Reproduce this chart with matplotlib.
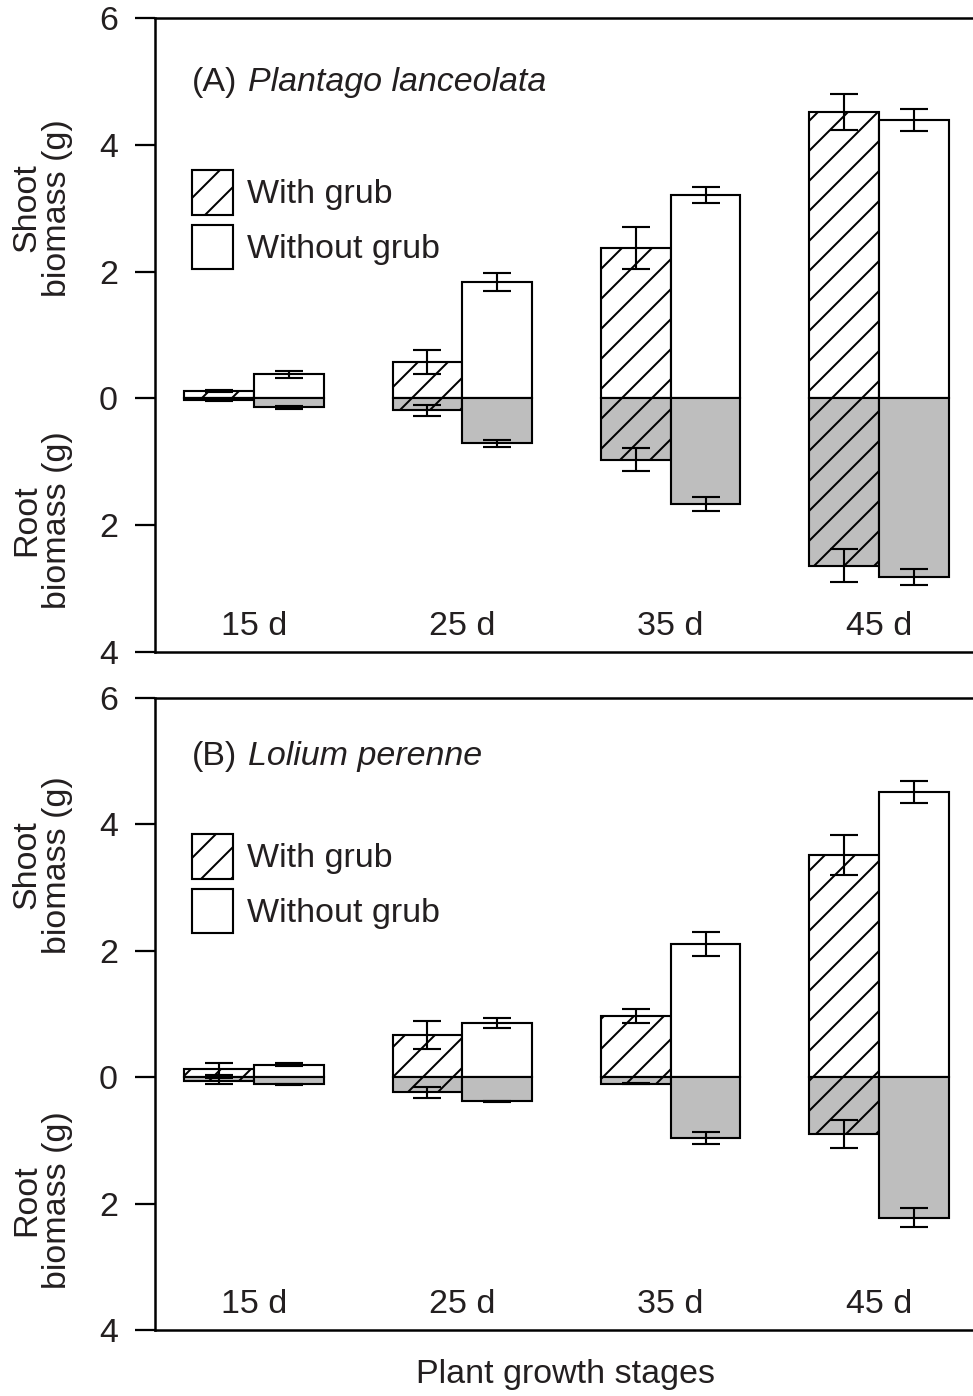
import matplotlib
matplotlib.use('Agg')
import matplotlib.pyplot as plt
from matplotlib.patches import Patch
import numpy as np

days = ['15 d', '25 d', '35 d', '45 d']

# Panel A - Plantago lanceolata
shoot_with_A = [0.12, 0.58, 2.37, 4.52]
shoot_with_A_err = [0.02, 0.19, 0.33, 0.28]
shoot_without_A = [0.38, 1.84, 3.21, 4.39]
shoot_without_A_err = [0.06, 0.14, 0.13, 0.17]
root_with_A = [0.03, 0.19, 0.97, 2.64]
root_with_A_err = [0.01, 0.09, 0.18, 0.26]
root_without_A = [0.14, 0.71, 1.66, 2.82]
root_without_A_err = [0.02, 0.06, 0.11, 0.13]

# Panel B - Lolium perenne
shoot_with_B = [0.13, 0.67, 0.97, 3.52]
shoot_with_B_err = [0.09, 0.22, 0.11, 0.32]
shoot_without_B = [0.20, 0.86, 2.11, 4.51]
shoot_without_B_err = [0.02, 0.08, 0.19, 0.17]
root_with_B = [0.06, 0.24, 0.10, 0.90]
root_with_B_err = [0.05, 0.09, 0.01, 0.22]
root_without_B = [0.11, 0.38, 0.96, 2.22]
root_without_B_err = [0.01, 0.01, 0.09, 0.15]

DPI = 180
txt = '#231f20'
gray = '#bebebe'
plt.rcParams['font.family'] = ['Liberation Sans', 'DejaVu Sans']
plt.rcParams['hatch.linewidth'] = 0.8
plt.rcParams['hatch.color'] = 'black'
fs = 13.6

fig = plt.figure(figsize=(973 / DPI, 1396 / DPI), dpi=DPI)

def px(x, y):
    return x / 973, 1 - y / 1396

panels = [
    dict(data=(shoot_with_A, shoot_with_A_err, shoot_without_A, shoot_without_A_err,
               root_with_A, root_with_A_err, root_without_A, root_without_A_err),
         top=18, bottom=652, tag='(A)', name='Plantago lanceolata', title_y=82,
         leg_y=170, shoot_y=208, root_y=520),
    dict(data=(shoot_with_B, shoot_with_B_err, shoot_without_B, shoot_without_B_err,
               root_with_B, root_with_B_err, root_without_B, root_without_B_err),
         top=698, bottom=1330, tag='(B)', name='Lolium perenne', title_y=757,
         leg_y=834, shoot_y=865, root_y=1200),
]

x = np.arange(len(days))
w = 0.335
lw = 0.85

for p in panels:
    sw, swe, so, soe, rw, rwe, ro, roe = p['data']
    left = 155 / 973
    width = (978 - 155) / 973
    b = 1 - p['bottom'] / 1396
    h = (p['bottom'] - p['top']) / 1396
    ax = fig.add_axes([left, b, width, h])

    xw = x - w / 2
    xo = x + w / 2
    ax.bar(xw, sw, w, color='white', edgecolor='black', hatch='//', linewidth=lw, zorder=2)
    ax.bar(xo, so, w, color='white', edgecolor='black', linewidth=lw, zorder=2)
    ax.bar(xw, -np.array(rw), w, color=gray, edgecolor='black', hatch='//', linewidth=lw, zorder=2)
    ax.bar(xo, -np.array(ro), w, color=gray, edgecolor='black', linewidth=lw, zorder=2)

    ekw = dict(fmt='none', ecolor='black', elinewidth=lw, capsize=5.6, capthick=lw, zorder=3)
    ax.errorbar(xw, sw, yerr=swe, **ekw)
    ax.errorbar(xo, so, yerr=soe, **ekw)
    ax.errorbar(xw, -np.array(rw), yerr=rwe, **ekw)
    ax.errorbar(xo, -np.array(ro), yerr=roe, **ekw)

    ax.set_xlim(-0.476, 3.476)
    ax.set_ylim(-4, 6)
    ax.set_yticks([-4, -2, 0, 2, 4, 6])
    ax.set_yticklabels(['4', '2', '0', '2', '4', '6'])
    ax.set_xticks([])
    ax.tick_params(axis='y', direction='out', length=8, width=0.9, pad=6.8,
                   labelsize=fs, labelcolor=txt)
    for s in ['left', 'top', 'bottom']:
        ax.spines[s].set_linewidth(1.0)
    ax.spines['right'].set_visible(False)

    for i, d in enumerate(days):
        ax.text(x[i], -3.59, d, ha='center', va='center', fontsize=fs, color=txt)

    fig.text(*px(192, p['title_y']), p['tag'], ha='left', va='center', fontsize=fs, color=txt)
    fig.text(*px(248, p['title_y']), p['name'], ha='left', va='center', fontsize=fs,
             color=txt, style='italic')

    handles = [Patch(facecolor='white', edgecolor='black', hatch='//', linewidth=lw),
               Patch(facecolor='white', edgecolor='black', linewidth=lw)]
    leg = fig.legend(handles, ['With grub', 'Without grub'], loc='upper left',
                     bbox_to_anchor=px(192, p['leg_y']), frameon=False, fontsize=fs,
                     handlelength=1.2, handleheight=1.65, labelspacing=0.29,
                     handletextpad=0.42, borderpad=0, borderaxespad=0)
    for t in leg.get_texts():
        t.set_color(txt)

    fig.text(*px(42, p['shoot_y']), 'Shoot\nbiomass (g)', rotation=90, ha='center',
             va='center', multialignment='center', fontsize=fs, color=txt, linespacing=1.0)
    fig.text(*px(42, p['root_y']), 'Root\nbiomass (g)', rotation=90, ha='center',
             va='center', multialignment='center', fontsize=fs, color=txt, linespacing=1.0)

fig.text(*px(565, 1375), 'Plant growth stages', ha='center', va='center', fontsize=fs, color=txt)

fig.savefig('out.png', dpi=DPI)
